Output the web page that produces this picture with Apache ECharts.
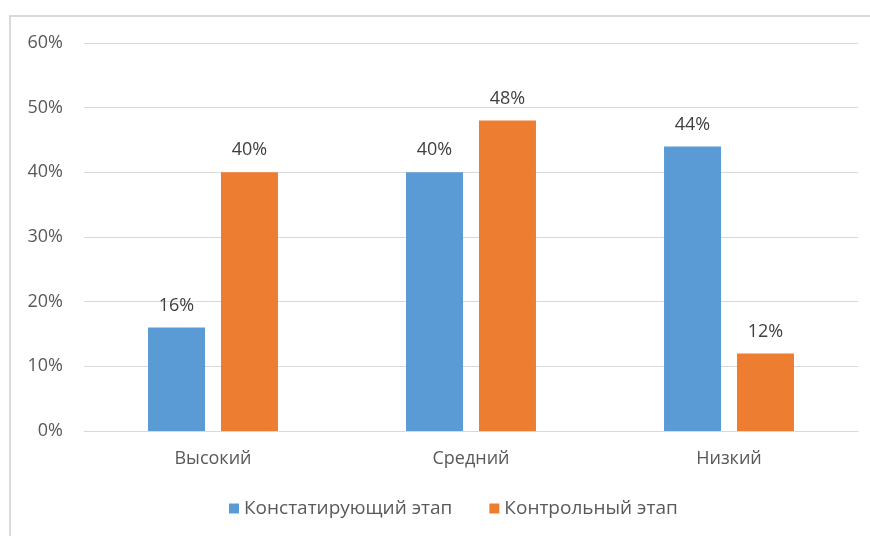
<!DOCTYPE html>
<html>
<head>
<meta charset="utf-8">
<script src="https://cdn.jsdelivr.net/npm/echarts@6/dist/echarts.min.js"></script>
<style>
html, body { margin: 0; padding: 0; background: #fff; }
#main { width: 870px; height: 536px; }
</style>
</head>
<body>
<div id="main"></div>
<script>
"use strict";
var categories = ["Высокий", "Средний", "Низкий"];
var seriesNames = ["Констатирующий этап", "Контрольный этап"];
var stage1 = [16, 40, 44];
var stage2 = [40, 48, 12];
var yTicks = [0, 10, 20, 30, 40, 50, 60];

var font = "'Open Sans', 'Noto Sans', sans-serif";
var chartDom = document.getElementById('main');
var myChart = echarts.init(chartDom);

function barSeries(name, data, color) {
    return {
        name: name,
        type: 'bar',
        data: data,
        barWidth: 57,
        barGap: '28%',
        itemStyle: { color: color },
        label: {
            show: true,
            position: 'top',
            distance: 13,
            formatter: '{c}%',
            color: '#404040',
            fontSize: 18,
            fontFamily: font
        }
    };
}

var option = {
    animation: false,
    textStyle: { fontFamily: font },
    graphic: [{
        type: 'rect',
        shape: { x: 10, y: 16, width: 880, height: 540 },
        style: { fill: 'none', stroke: '#d9d9d9', lineWidth: 2 },
        silent: true
    }],
    grid: { left: 84, right: 12, top: 43, bottom: 105 },
    legend: {
        bottom: 13,
        left: 224,
        itemWidth: 10,
        itemHeight: 10,
        itemGap: 37,
        icon: 'rect',
        textStyle: { color: '#595959', fontSize: 19, fontFamily: font },
        data: seriesNames
    },
    xAxis: {
        type: 'category',
        data: categories,
        axisLine: { lineStyle: { color: '#d9d9d9' } },
        axisTick: { show: false },
        axisLabel: { color: '#595959', fontSize: 18, margin: 19, fontFamily: font }
    },
    yAxis: {
        type: 'value',
        min: yTicks[0],
        max: yTicks[yTicks.length - 1],
        interval: 10,
        axisLine: { show: false },
        axisTick: { show: false },
        splitLine: { lineStyle: { color: '#d9d9d9' } },
        axisLabel: { color: '#595959', fontSize: 18, margin: 21, formatter: '{value}%', fontFamily: font }
    },
    series: [
        barSeries(seriesNames[0], stage1, '#5b9bd5'),
        barSeries(seriesNames[1], stage2, '#ed7d31')
    ]
};
myChart.setOption(option);
</script>
</body>
</html>
